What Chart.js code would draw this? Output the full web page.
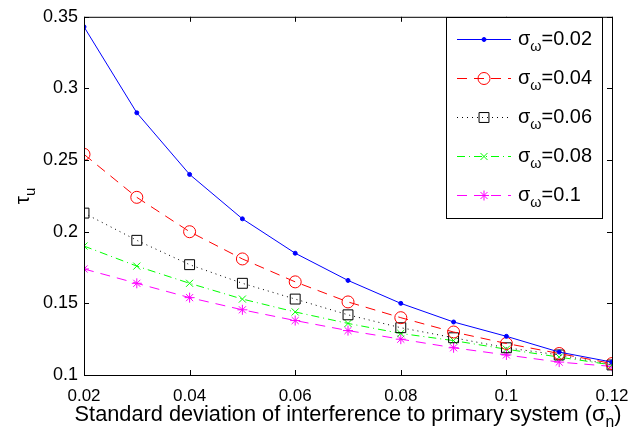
<!DOCTYPE html>
<html lang="en">
<head>
    <meta charset="UTF-8">
    <title>tau_u vs sigma_n</title>
    <script src="https://cdn.jsdelivr.net/npm/chart.js"></script>
    <style>
        body { margin: 0; background: #fff; }
    </style>
</head>
<body>
    <canvas id="tauChart" width="644" height="432"></canvas>

    <script>
        // sigma_n on the x axis
        const sigmaN = [0.02, 0.03, 0.04, 0.05, 0.06, 0.07, 0.08, 0.09, 0.1, 0.11, 0.12];

        // tau_u for each sigma_omega
        const tau002 = [0.343, 0.283, 0.240, 0.209, 0.185, 0.166, 0.150, 0.137, 0.127, 0.116, 0.109];
        const tau004 = [0.254, 0.224, 0.200, 0.181, 0.165, 0.151, 0.140, 0.130, 0.122, 0.115, 0.108];
        const tau006 = [0.213, 0.194, 0.177, 0.164, 0.153, 0.142, 0.133, 0.126, 0.119, 0.114, 0.107];
        const tau008 = [0.190, 0.176, 0.164, 0.153, 0.144, 0.136, 0.129, 0.124, 0.118, 0.1125, 0.107];
        const tau01  = [0.174, 0.164, 0.154, 0.1455, 0.138, 0.131, 0.125, 0.119, 0.114, 0.109, 0.106];

        const legendValues = ['0.02', '0.04', '0.06', '0.08', '0.1'];

        const FONT = '"Liberation Sans", Arial, Helvetica, sans-serif';

        function pts(ys) {
            return ys.map((y, i) => ({ x: sigmaN[i], y: y }));
        }

        function fmt(v) {
            return String(Number(v.toFixed(3)));
        }

        function partsWidth(ctx, parts, size) {
            let total = 0;
            parts.forEach(p => {
                ctx.font = (p[1] ? size * 0.72 : size) + 'px ' + FONT;
                total += ctx.measureText(p[0]).width;
            });
            return total;
        }

        // font size so that the text is about `w` px wide
        function fitSize(ctx, parts, w) {
            return 20 * w / partsWidth(ctx, parts, 20);
        }

        // draw text with subscript pieces: [[text, isSub], ...]
        function drawParts(ctx, x, y, parts, size, align) {
            const total = partsWidth(ctx, parts, size);
            let cx = align === 'center' ? x - total / 2 : x;
            ctx.textAlign = 'left';
            ctx.textBaseline = 'alphabetic';
            parts.forEach(p => {
                ctx.font = (p[1] ? size * 0.72 : size) + 'px ' + FONT;
                ctx.fillText(p[0], cx, p[1] ? y + size * 0.28 : y);
                cx += ctx.measureText(p[0]).width;
            });
        }

        const frame = {
            id: 'frame',
            afterDraw(chart) {
                const ctx = chart.ctx;
                const a = chart.chartArea;
                const xs = chart.scales.x, ys = chart.scales.y;
                ctx.save();
                ctx.strokeStyle = '#000';
                ctx.lineWidth = 1;
                ctx.strokeRect(a.left + 0.5, a.top + 0.5, a.right - a.left, a.bottom - a.top);
                ctx.beginPath();
                xs.ticks.forEach((t, i) => {
                    const px = Math.round(xs.getPixelForTick(i)) + 0.5;
                    ctx.moveTo(px, a.bottom); ctx.lineTo(px, a.bottom - 5);
                    ctx.moveTo(px, a.top); ctx.lineTo(px, a.top + 5);
                });
                ys.ticks.forEach((t, i) => {
                    const py = Math.round(ys.getPixelForTick(i)) + 0.5;
                    ctx.moveTo(a.left, py); ctx.lineTo(a.left + 5, py);
                    ctx.moveTo(a.right, py); ctx.lineTo(a.right - 5, py);
                });
                ctx.stroke();

                // axis titles
                ctx.fillStyle = '#000';
                const xTitle = [['Standard deviation of interference to primary system (\u03c3', false], ['n', true], [')', false]];
                drawParts(ctx, (a.left + a.right) / 2, 421, xTitle, fitSize(ctx, xTitle, 547), 'center');
                ctx.save();
                ctx.translate(29, (a.top + a.bottom) / 2);
                ctx.rotate(-Math.PI / 2);
                drawParts(ctx, 0, 0, [['\u03c4', false], ['u', true]], 21, 'center');
                ctx.restore();

                // legend box
                const bx = 446, by = 17, bw = 156, bh = 201;
                ctx.fillStyle = '#fff';
                ctx.fillRect(bx, by, bw, bh);
                ctx.strokeStyle = '#000';
                ctx.strokeRect(bx + 0.5, by + 0.5, bw, bh);
                chart.data.datasets.forEach((ds, i) => {
                    const ly = 39 + i * 39;
                    ctx.save();
                    ctx.strokeStyle = ds.borderColor;
                    ctx.lineWidth = ds.borderWidth;
                    ctx.setLineDash(ds.borderDash || []);
                    ctx.beginPath();
                    ctx.moveTo(457, ly + 0.5);
                    ctx.lineTo(511, ly + 0.5);
                    ctx.stroke();
                    ctx.setLineDash([]);
                    ctx.fillStyle = ds.pointBackgroundColor;
                    Chart.helpers.drawPoint(ctx, {
                        pointStyle: ds.pointStyle,
                        radius: ds.pointRadius,
                        borderWidth: 1
                    }, 484, ly + 0.5);
                    ctx.restore();
                    ctx.fillStyle = '#000';
                    const lab = [['\u03c3', false], ['\u03c9', true], ['=' + legendValues[0], false]];
                    const size = fitSize(ctx, lab, 74);
                    drawParts(ctx, 518, ly + 6, [['\u03c3', false], ['\u03c9', true], ['=' + legendValues[i], false]], size, 'left');
                });
                ctx.restore();
            }
        };

        new Chart(document.getElementById('tauChart').getContext('2d'), {
            type: 'line',
            data: {
                datasets: [{
                    label: 'sigma_w=0.02',
                    data: pts(tau002),
                    borderColor: '#0000ff',
                    pointBackgroundColor: '#0000ff',
                    borderWidth: 1,
                    pointStyle: 'circle',
                    pointRadius: 2,
                    pointBorderWidth: 1
                }, {
                    label: 'sigma_w=0.04',
                    data: pts(tau004),
                    borderColor: '#ff0000',
                    pointBackgroundColor: 'rgba(0,0,0,0)',
                    borderWidth: 1,
                    borderDash: [10, 7],
                    pointStyle: 'circle',
                    pointRadius: 6,
                    pointBorderWidth: 1
                }, {
                    label: 'sigma_w=0.06',
                    data: pts(tau006),
                    borderColor: '#000000',
                    pointBackgroundColor: 'rgba(0,0,0,0)',
                    borderWidth: 1,
                    borderDash: [1, 4],
                    pointStyle: 'rect',
                    pointRadius: 7,
                    pointBorderWidth: 1
                }, {
                    label: 'sigma_w=0.08',
                    data: pts(tau008),
                    borderColor: '#00ff00',
                    pointBackgroundColor: 'rgba(0,0,0,0)',
                    borderWidth: 1,
                    borderDash: [8, 4, 1, 4],
                    pointStyle: 'crossRot',
                    pointRadius: 5,
                    pointBorderWidth: 1
                }, {
                    label: 'sigma_w=0.1',
                    data: pts(tau01),
                    borderColor: '#ff00ff',
                    pointBackgroundColor: 'rgba(0,0,0,0)',
                    borderWidth: 1,
                    borderDash: [10, 7],
                    pointStyle: 'star',
                    pointRadius: 5,
                    pointBorderWidth: 1
                }]
            },
            options: {
                responsive: false,
                animation: false,
                devicePixelRatio: 1,
                layout: { padding: { top: 9, right: 32, left: 0, bottom: 0 } },
                plugins: {
                    legend: { display: false },
                    tooltip: { enabled: false }
                },
                scales: {
                    x: {
                        type: 'linear',
                        min: 0.02,
                        max: 0.12,
                        ticks: {
                            stepSize: 0.02,
                            color: '#000',
                            font: { family: FONT, size: 17 },
                            padding: 11,
                            maxRotation: 0,
                            callback: v => fmt(v)
                        },
                        grid: { drawOnChartArea: false, drawTicks: false },
                        border: { display: false },
                        afterFit: s => { s.height = 57; }
                    },
                    y: {
                        min: 0.1,
                        max: 0.35,
                        ticks: {
                            stepSize: 0.05,
                            color: '#000',
                            font: { family: FONT, size: 18 },
                            padding: 6,
                            callback: v => fmt(v)
                        },
                        grid: { drawOnChartArea: false, drawTicks: false },
                        border: { display: false },
                        afterFit: s => { s.width = 84; }
                    }
                }
            },
            plugins: [frame]
        });
    </script>
</body>
</html>
